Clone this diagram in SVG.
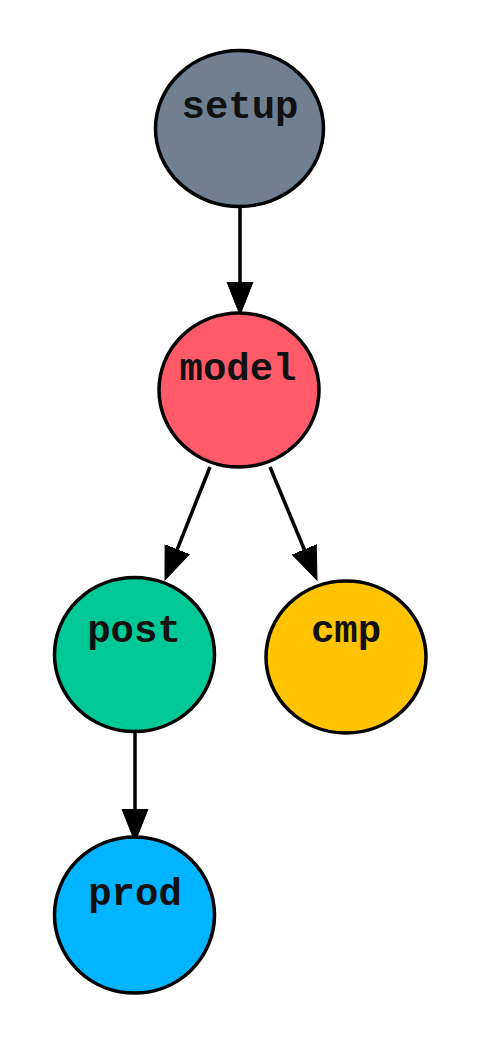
<svg xmlns="http://www.w3.org/2000/svg" width="480" height="1040" viewBox="0 0 480 1040">
<defs>
<marker id="arr" markerUnits="userSpaceOnUse" markerWidth="34" markerHeight="28" viewBox="0 -1 34 28" refX="0" refY="13" orient="auto">
<path d="M0,0 L33,13 L0,26 z" fill="#000" stroke="#000" stroke-width="1"/>
</marker>
</defs>
<style>
.n{stroke:#000;stroke-width:3.5}
.t{font-family:"Liberation Mono","Courier New",monospace;font-weight:bold;font-size:39px;fill:#111;text-anchor:middle}
.e{stroke:#000;stroke-width:3.5;fill:none;marker-end:url(#arr)}
</style>
<rect width="480" height="1040" fill="#fff"/>
<g id="edges">
<path class="e" d="M240,206 L240,282"/>
<path class="e" d="M210,467 L177.2,549.3"/>
<path class="e" d="M270,467 L304.3,549.5"/>
<path class="e" d="M135,732 L135,809"/>
</g>
<g id="setup"><ellipse class="n" cx="239.5" cy="128.5" rx="84" ry="78" fill="#708090"/><text class="t" x="240" y="118">setup</text></g>
<g id="model"><ellipse class="n" cx="239" cy="390" rx="80" ry="77" fill="#FF5A6A"/><text class="t" x="238" y="380">model</text></g>
<g id="post"><ellipse class="n" cx="134.5" cy="654.5" rx="80" ry="77" fill="#00C896"/><text class="t" x="134" y="642">post</text></g>
<g id="cmp"><ellipse class="n" cx="346" cy="657" rx="80" ry="76" fill="#FFC300"/><text class="t" x="346" y="642">cmp</text></g>
<g id="prod"><ellipse class="n" cx="134.5" cy="915" rx="80" ry="78" fill="#00B4FF"/><text class="t" x="135" y="905">prod</text></g>
</svg>
